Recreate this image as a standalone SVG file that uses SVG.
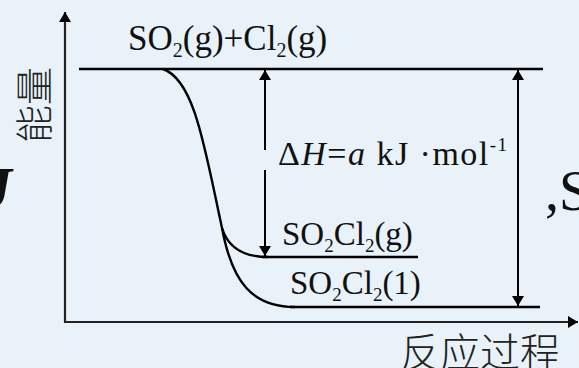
<svg xmlns="http://www.w3.org/2000/svg" width="579" height="368" viewBox="0 0 579 368">
<style>
.bg{fill:#e8f2f8}
.ax{stroke:#222;stroke-width:2.2;fill:none}
.ln{stroke:#000;stroke-width:2.6;fill:none}
.cv{stroke:#000;stroke-width:2.4;fill:none}
.ar{stroke:#000;stroke-width:2;fill:none}
.t{font-family:"Liberation Serif","Times New Roman",serif;fill:#111}
.cjk{font-family:"Noto Sans CJK SC",sans-serif;font-weight:300;fill:#222}
</style>
<defs>
<marker id="ah" viewBox="0 0 10 16" refX="10" refY="8" markerWidth="10" markerHeight="16" markerUnits="userSpaceOnUse" orient="auto">
<path d="M0,2 L10,8 L0,14 Z" fill="#000"/>
</marker>
</defs>
<rect class="bg" x="0" y="0" width="579" height="368"/>
<g id="axes">
<line class="ax" x1="65" y1="322" x2="65" y2="12" marker-end="url(#ah)"/>
<line class="ax" x1="64" y1="322" x2="578" y2="322" marker-end="url(#ah)"/>
</g>
<g id="levels">
<line class="ln" x1="79" y1="69" x2="543" y2="69"/>
<line class="ln" x1="262" y1="257" x2="418" y2="257"/>
<line class="ln" x1="290" y1="307" x2="540" y2="307"/>
</g>
<g id="connectors">
<path class="cv" d="M163,69 C195,80 205,150 222,228 C228,248 245,257 268,257"/>
<path class="cv" d="M222,228 C232,282 252,307 295,307"/>
<line class="ar" x1="265" y1="150" x2="265" y2="70" marker-end="url(#ah)"/>
<line class="ar" x1="265" y1="170" x2="265" y2="256" marker-end="url(#ah)"/>
<line class="ar" x1="518" y1="150" x2="518" y2="70" marker-end="url(#ah)"/>
<line class="ar" x1="518" y1="150" x2="518" y2="306" marker-end="url(#ah)"/>
</g>
<g id="label-reactants">
<text class="t" x="128" y="50" font-size="35">SO<tspan font-size="20" dy="7">2</tspan><tspan dy="-7">(g)+Cl</tspan><tspan font-size="20" dy="7">2</tspan><tspan dy="-7">(g)</tspan></text>
</g>
<g id="label-dh">
<text class="t" x="278" y="165" font-size="34" textLength="229" lengthAdjust="spacing">Δ<tspan font-style="italic">H</tspan>=<tspan font-style="italic">a</tspan> kJ ·mol<tspan font-size="19" dy="-14">-1</tspan></text>
</g>
<g id="label-gas">
<text class="t" x="282" y="245" font-size="33">SO<tspan font-size="19" dy="7">2</tspan><tspan dy="-7">Cl</tspan><tspan font-size="19" dy="7">2</tspan><tspan dy="-7">(g)</tspan></text>
</g>
<g id="label-liquid">
<text class="t" x="290" y="294" font-size="33">SO<tspan font-size="19" dy="7">2</tspan><tspan dy="-7">Cl</tspan><tspan font-size="19" dy="7">2</tspan><tspan dy="-7">(1)</tspan></text>
</g>
<g id="label-axes">
<text class="cjk" x="0" y="0" font-size="38" transform="translate(48,143) rotate(-90)">能量</text>
<text class="cjk" x="400" y="367" font-size="40">反应过程</text>
</g>
<g id="fragments">
<text class="t" x="-18" y="208" font-size="60" font-style="italic" font-weight="bold">J</text>
<text class="t" x="545" y="210" font-size="56">,S</text>
</g>
</svg>
